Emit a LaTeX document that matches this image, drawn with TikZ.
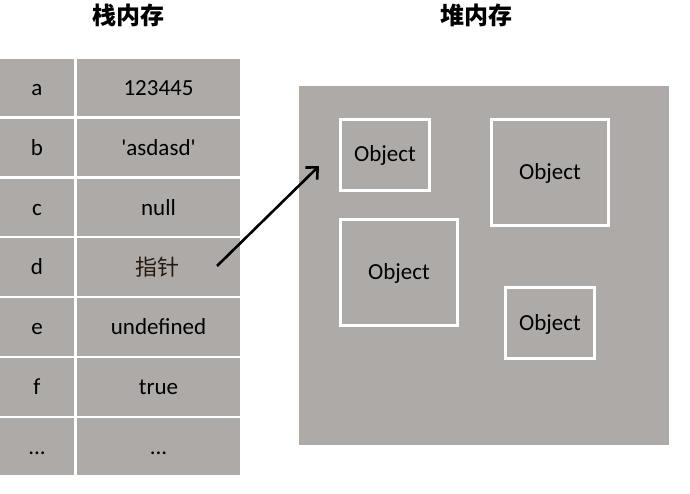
\documentclass[tikz,border=0pt]{standalone}
\usepackage{fontspec}
\setmainfont{Carlito}
\newfontfamily\cjk{Noto Sans CJK SC}
\usetikzlibrary{arrows.meta}
\definecolor{memgray}{RGB}{174,170,168}
\tikzset{
  celltext/.style={font=\fontsize{23}{27}\selectfont, text=black, inner sep=0pt, text height=16pt, text depth=5pt},
  title/.style={font=\cjk\bfseries\fontsize{24}{28}\selectfont, inner sep=0pt},
  objbox/.style={draw=white, line width=3pt, fill=memgray, inner sep=0pt, text height=17pt, text depth=3pt, font=\fontsize{23}{27}\selectfont},
  pointer/.style={line width=2.6pt, -{Straight Barb[length=9pt,width=17pt,line width=2.6pt]}}
}
\begin{document}
\begin{tikzpicture}[x=1pt,y=-1pt]
\useasboundingbox (0,0) rectangle (690,494);
\fill[white] (0,0) rectangle (690,494);
% titles
\node[title] (t1) at (128,15) {栈内存};
\node[title] (t2) at (476,15) {堆内存};
% stack rows
\foreach \i/\k/\v [count=\n from 0] in {a/a/123445, b/b/{\textquotesingle asdasd\textquotesingle}, c/c/null, d/d/{}, e/e/undefined, f/f/true, g/{...}/{...}}{
  \pgfmathsetmacro{\top}{59+59.8*\n}
  \fill[memgray] (0,\top) rectangle (74,\top+57.5);
  \fill[memgray] (77,\top) rectangle (240,\top+57.5);
  \node[celltext] (k\i) at (37,\top+31) {\k};
  \node[celltext] (v\i) at (158.5,\top+31) {\v};
}
\node[inner sep=0pt, font=\cjk\fontsize{22}{26}\selectfont, text={rgb,255:red,40;green,25;blue,15}] (ptr) at (157,267) {指针};
% heap
\node[fill=memgray, minimum width=370pt, minimum height=359pt, inner sep=0pt] (heap) at (484,265.5) {};
\node[objbox, minimum width=89pt, minimum height=71pt] (o1) at (385,155) {Object};
\node[objbox, minimum width=117pt, minimum height=106pt] (o2) at (550,172.5) {Object};
\node[objbox, minimum width=117pt, minimum height=106pt] (o3) at (399,272.5) {Object};
\node[objbox, minimum width=89pt, minimum height=71pt] (o4) at (550,323) {Object};
% pointer arrow
\coordinate (from) at (217,266);
\coordinate (to) at (319,166);
\draw[pointer] (from) -- (to);
\end{tikzpicture}
\end{document}
